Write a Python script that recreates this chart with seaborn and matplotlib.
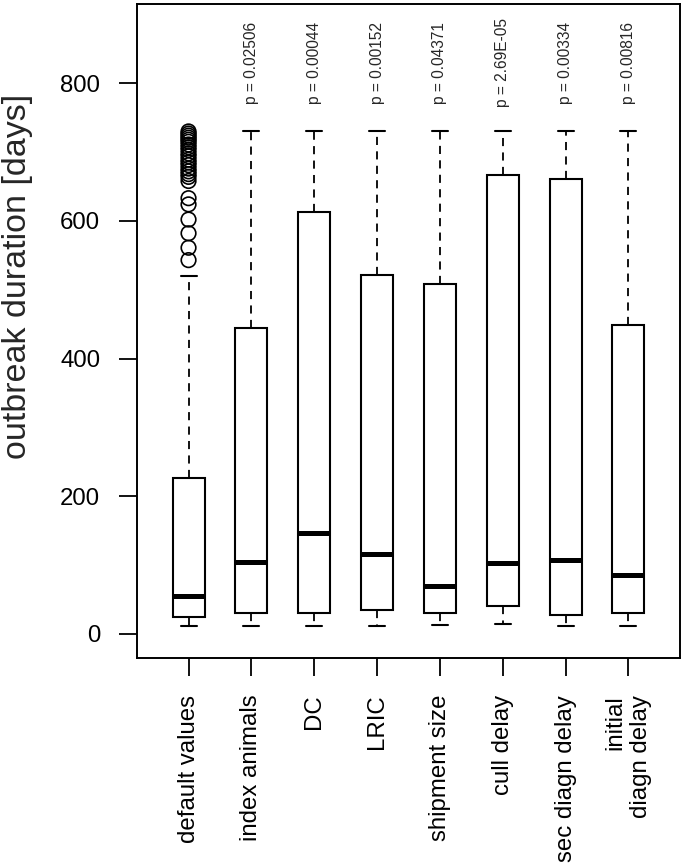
import numpy as np
import pandas as pd
import matplotlib
matplotlib.use("Agg")
import matplotlib.pyplot as plt
import seaborn as sns

# ---- data ----
categories = ["default values", "index animals", "DC", "LRIC", "shipment size",
              "cull delay", "sec diagn delay", "initial\ndiagn delay"]
whisker_low = [12, 12, 12, 12, 13, 14, 12, 12]
q1 = [25, 30, 30, 35, 30, 40, 28, 30]
median = [55, 105, 147, 116, 70, 103, 107, 86]
q3 = [226, 444, 613, 522, 508, 667, 661, 448]
whisker_high = [520, 730, 730, 730, 730, 730, 730, 730]
outliers_default = [543, 561, 582, 602, 624, 633, 658, 664, 668, 672, 676, 681,
                    685, 689, 694, 698, 703, 707, 711, 715, 718, 721, 724, 727, 730]
p_labels = ["", "p = 0.02506", "p = 0.00044", "p = 0.00152", "p = 0.04371",
            "p = 2.69E-05", "p = 0.00334", "p = 0.00816"]
p_label_y = 830
y_ticks = [0, 200, 400, 600, 800]

# ---- table for seaborn: five summary values per group ----
rows = []
for i, c in enumerate(categories):
    for v in (whisker_low[i], q1[i], median[i], q3[i], whisker_high[i]):
        rows.append({"scenario": c, "duration": v})
df = pd.DataFrame(rows)
df_out = pd.DataFrame({"scenario": [categories[0]] * len(outliers_default),
                       "duration": outliers_default})

sns.set_style("white")
plt.rcParams["font.family"] = ["Liberation Sans", "DejaVu Sans"]

W, H = 686, 866
fig = plt.figure(figsize=(W / 100, H / 100), dpi=100)
ax = fig.add_axes([137 / W, 1 - 658 / H, (680 - 137) / W, (658 - 4) / H])

sns.boxplot(data=df, x="scenario", y="duration", order=categories, ax=ax,
            color="white", linecolor="black", saturation=1, width=0.51,
            linewidth=1.5, showfliers=False,
            medianprops=dict(linewidth=3.6, color="black", solid_capstyle="butt"),
            whiskerprops=dict(linestyle=(0, (4.5, 3.5)), linewidth=1.3, color="black"),
            capprops=dict(linewidth=1.5, color="black"),
            boxprops=dict(linewidth=1.5, edgecolor="black"))

pos = {c: i for i, c in enumerate(categories)}
sns.scatterplot(x=df_out["scenario"].map(pos), y=df_out["duration"], ax=ax,
                marker="o", s=110, facecolors="none", edgecolor="black",
                linewidth=1.2, legend=False, zorder=5)

for i, lab in enumerate(p_labels):
    if lab:
        ax.text(i, p_label_y, lab, rotation=90, ha="center", va="center",
                fontsize=11.2)

ax.set_xlim(-0.82, 7.82)
ax.set_ylim(-35.2, 915.2)
ax.set_yticks(y_ticks)
ax.set_yticklabels([str(t) for t in y_ticks])
ax.set_xticks(range(len(categories)))
ax.set_xticklabels(categories)
ax.set_xlabel("")
ax.set_ylabel("")
for lab in ax.get_xticklabels():
    lab.set_rotation(90)
    lab.set_multialignment("right")
    lab.set_verticalalignment("top")
    lab.set_horizontalalignment("center")

ax.tick_params(axis="both", which="both", direction="out", length=13, width=1.3,
               color="black", labelsize=17.3, labelcolor="black", pad=13.5,
               bottom=True, left=True)
for s in ax.spines.values():
    s.set_visible(True)
    s.set_color("black")
    s.set_linewidth(1.4)

fig.text(18 / W, 1 - 276 / H, "outbreak duration [days]", rotation=90,
         ha="center", va="center", fontsize=24.5)

fig.savefig("out.png", dpi=100, facecolor="white")
